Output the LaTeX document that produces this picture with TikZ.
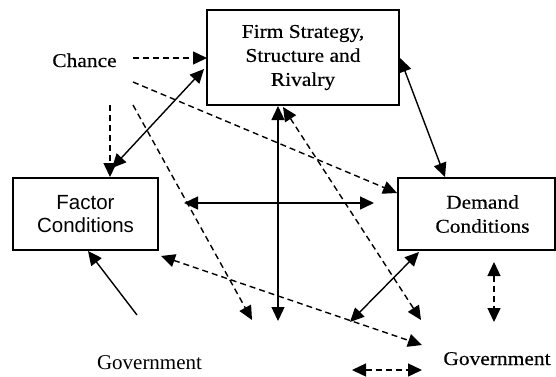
\documentclass[tikz,border=0pt]{standalone}
\usepackage{fontspec}
\setmainfont{Liberation Serif}
\newfontfamily\labelfont[FakeStretch=1.1,FakeBold=0.4]{Liberation Serif}
\newfontfamily\boxsans{Liberation Sans}
\usetikzlibrary{arrows.meta,calc}

\begin{document}
\begin{tikzpicture}[x=1pt,y=-1pt,
  box/.style={draw, line width=1.5pt, rectangle, inner sep=0pt, align=center},
  serifbig/.style={font=\labelfont\fontsize{19.5}{24}\selectfont},
  link/.style={line width=1.4pt, -{Triangle[length=14pt,width=13pt]}},
  twoway/.style={line width=1.4pt, {Triangle[length=14pt,width=13pt]}-{Triangle[length=14pt,width=13pt]}},
  dashlink/.style={link, dash pattern=on 6pt off 4pt},
  dashtwoway/.style={twoway, dash pattern=on 6pt off 4pt},
]
\useasboundingbox (0,0) rectangle (556,376);

% the four corners of the diamond
\node[box, minimum width=192pt, minimum height=95pt, serifbig] (firm) at (303,57.5)
  {Firm Strategy,\\Structure and\\Rivalry};
\node[box, minimum width=145pt, minimum height=72pt,
      font=\boxsans\fontsize{20.5}{23}\selectfont] (factor) at (85.5,214)
  {Factor\\Conditions};
\node[box, minimum width=157pt, minimum height=72pt, serifbig] (demand) at (476.5,214)
  {\hspace*{12pt}Demand\\\hspace*{12pt}Conditions};

% outside influences
\node[serifbig, anchor=base, inner sep=0pt] (chance) at (84.5,67) {Chance};
\node[font=\fontsize{21}{25}\selectfont, anchor=base, inner sep=0pt] (govleft) at (149.5,369) {Government};
\node[serifbig, anchor=base, inner sep=0pt] (govright) at (497,365) {Government};

% end points of the connectors
\coordinate (chR)   at (133,58);
\coordinate (firmL) at (207,58);
\coordinate (chD)   at (110,105);
\coordinate (facT)  at (110,177);
\coordinate (chDR)  at (133,82);
\coordinate (demL)  at (397,193);
\coordinate (chB)   at (133,105);
\coordinate (lowA)  at (252,320);
\coordinate (firmLL) at (204,69);
\coordinate (facTR) at (112,168);
\coordinate (firmR) at (400,58);
\coordinate (demT)  at (445,177);
\coordinate (firmB) at (278,106);
\coordinate (lowB)  at (278,321);
\coordinate (facR)  at (184,203);
\coordinate (demLL) at (374,203);
\coordinate (firmBR) at (283,107);
\coordinate (lowC)  at (421,320);
\coordinate (facBR) at (161,256);
\coordinate (govIn) at (422,345);
\coordinate (demB)  at (419,252);
\coordinate (lowD)  at (350,322);
\coordinate (vTop)  at (494,262);
\coordinate (vBot)  at (494,322);
\coordinate (hL)    at (352,370);
\coordinate (hR)    at (422,370);
\coordinate (govOut) at (137,315);
\coordinate (facB)  at (88,251);

% chance
\draw[dashlink] (chR) -- (firmL);
\draw[dashlink] (chD) -- (facT);
\draw[dashlink] (chDR) -- (demL);
\draw[dashlink] (chB) -- (lowA);

% links between the corners
\draw[twoway] (firmLL) -- (facTR);
\draw[twoway] (firmR) -- (demT);
\draw[twoway] (firmB) -- (lowB);
\draw[twoway] (facR) -- (demLL);
\draw[twoway] (demB) -- (lowD);

% government
\draw[dashtwoway] (firmBR) -- (lowC);
\draw[dashtwoway] (facBR) -- (govIn);
\draw[dashtwoway] (vTop) -- (vBot);
\draw[dashtwoway] (hL) -- (hR);
\draw[link] (govOut) -- (facB);
\end{tikzpicture}
\end{document}
